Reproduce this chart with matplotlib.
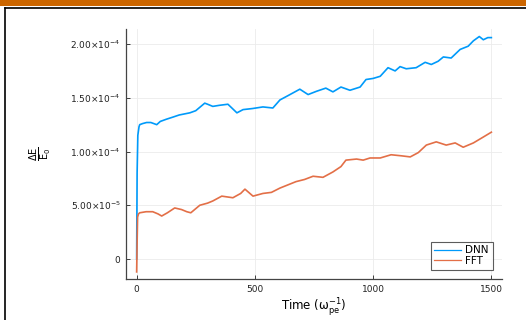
import numpy as np
import matplotlib.pyplot as plt
from matplotlib.patches import Rectangle
from matplotlib.lines import Line2D

plt.rcParams['font.family'] = ['DejaVu Sans']
plt.rcParams['mathtext.fontset'] = 'dejavusans'

# values (time in 1/w_pe, energy error dE/E0)
t_dnn = [0, 2, 5, 10, 13, 25, 42, 60, 85, 100, 125, 153, 180, 225, 250, 288, 300, 322, 350,
         386, 405, 424, 450, 490, 534, 576, 606, 640, 690, 725, 760, 800, 830, 864, 902,
         945, 970, 1000, 1030, 1063, 1093, 1114, 1140, 1182, 1220, 1246, 1275, 1297, 1330,
         1368, 1402, 1424, 1449, 1466, 1485, 1500]
dnn = [0.0, 8.0e-5, 1.15e-4, 1.23e-4, 1.25e-4, 1.26e-4, 1.27e-4, 1.27e-4, 1.25e-4, 1.28e-4,
       1.30e-4, 1.32e-4, 1.34e-4, 1.36e-4, 1.38e-4, 1.45e-4, 1.44e-4, 1.42e-4, 1.43e-4,
       1.44e-4, 1.40e-4, 1.36e-4, 1.39e-4, 1.40e-4, 1.415e-4, 1.405e-4, 1.48e-4, 1.52e-4,
       1.58e-4, 1.53e-4, 1.56e-4, 1.59e-4, 1.555e-4, 1.60e-4, 1.57e-4, 1.60e-4, 1.67e-4,
       1.68e-4, 1.70e-4, 1.78e-4, 1.75e-4, 1.79e-4, 1.77e-4, 1.78e-4, 1.83e-4, 1.81e-4,
       1.84e-4, 1.88e-4, 1.87e-4, 1.95e-4, 1.98e-4, 2.03e-4, 2.07e-4, 2.04e-4, 2.06e-4, 2.06e-4]

t_fft = [0, 2, 4, 8, 13, 40, 68, 90, 106, 130, 161, 190, 212, 229, 267, 300, 322, 360, 407,
         440, 458, 492, 534, 570, 606, 640, 674, 710, 746, 788, 830, 864, 885, 930, 958,
         987, 1030, 1076, 1120, 1157, 1191, 1225, 1267, 1309, 1347, 1381, 1424, 1466, 1500]
fft = [-1.2e-5, 1.5e-5, 3.9e-5, 4.2e-5, 4.3e-5, 4.4e-5, 4.4e-5, 4.2e-5, 4.0e-5, 4.3e-5,
       4.75e-5, 4.6e-5, 4.4e-5, 4.3e-5, 5.0e-5, 5.2e-5, 5.4e-5, 5.85e-5, 5.7e-5, 6.1e-5,
       6.5e-5, 5.85e-5, 6.1e-5, 6.2e-5, 6.6e-5, 6.9e-5, 7.2e-5, 7.4e-5, 7.7e-5, 7.6e-5,
       8.1e-5, 8.6e-5, 9.2e-5, 9.3e-5, 9.2e-5, 9.4e-5, 9.4e-5, 9.7e-5, 9.6e-5, 9.5e-5,
       9.9e-5, 1.06e-4, 1.09e-4, 1.06e-4, 1.08e-4, 1.04e-4, 1.08e-4, 1.135e-4, 1.18e-4]

x_ticks = [0, 500, 1000, 1500]
y_ticks = [0, 5e-5, 1e-4, 1.5e-4, 2e-4]
y_tick_labels = ['0', r'$5.00{\times}10^{-5}$', r'$1.00{\times}10^{-4}$',
                 r'$1.50{\times}10^{-4}$', r'$2.00{\times}10^{-4}$']

fig = plt.figure(figsize=(5.26, 3.2), dpi=100)
ax = fig.add_axes([126/526, 1 - 279/320, 376/526, 250/320])

ax.plot(t_dnn, dnn, color='#009AFA', lw=1.2, label='DNN')
ax.plot(t_fft, fft, color='#E36F47', lw=1.2, label='FFT')

ax.set_xlim(-45, 1545)
ax.set_ylim(-1.86e-5, 2.14e-4)
ax.set_xticks(x_ticks)
ax.set_yticks(y_ticks)
ax.set_yticklabels(y_tick_labels)
ax.tick_params(direction='in', length=3, width=0.6, labelsize=6.5, colors='#222222', pad=4)
ax.grid(True, color='#ebebeb', lw=0.6)
for s in ['top', 'right']:
    ax.spines[s].set_visible(False)
for s in ['left', 'bottom']:
    ax.spines[s].set_color('#444444')
    ax.spines[s].set_linewidth(0.9)

ax.set_xlabel(r'Time ($\mathrm{\omega_{pe}^{-1}}$)', fontsize=8.5, labelpad=2)
ax.set_ylabel(r'$\frac{\Delta\mathrm{E}}{\mathrm{E}_0}$', fontsize=10, labelpad=12)

leg = ax.legend(loc='lower right', fontsize=7.5, frameon=True, fancybox=False,
                borderpad=0.35, handlelength=2.6, labelspacing=0.05, handletextpad=0.4,
                borderaxespad=0.9)
leg.get_frame().set_edgecolor('#333333')
leg.get_frame().set_linewidth(0.8)
for h in leg.get_lines():
    h.set_linewidth(0.9)

# page decorations around the figure
fig.add_artist(Rectangle((0, 1 - 6/320), 1, 6/320, transform=fig.transFigure,
                         color='#CC6600', lw=0))
fig.add_artist(Line2D([5/526, 1], [1 - 8/320, 1 - 8/320], transform=fig.transFigure,
                      color='black', lw=1.2))
fig.add_artist(Line2D([5/526, 5/526], [0, 1 - 8/320], transform=fig.transFigure,
                      color='black', lw=1.2))

fig.savefig('out.png', dpi=100)
